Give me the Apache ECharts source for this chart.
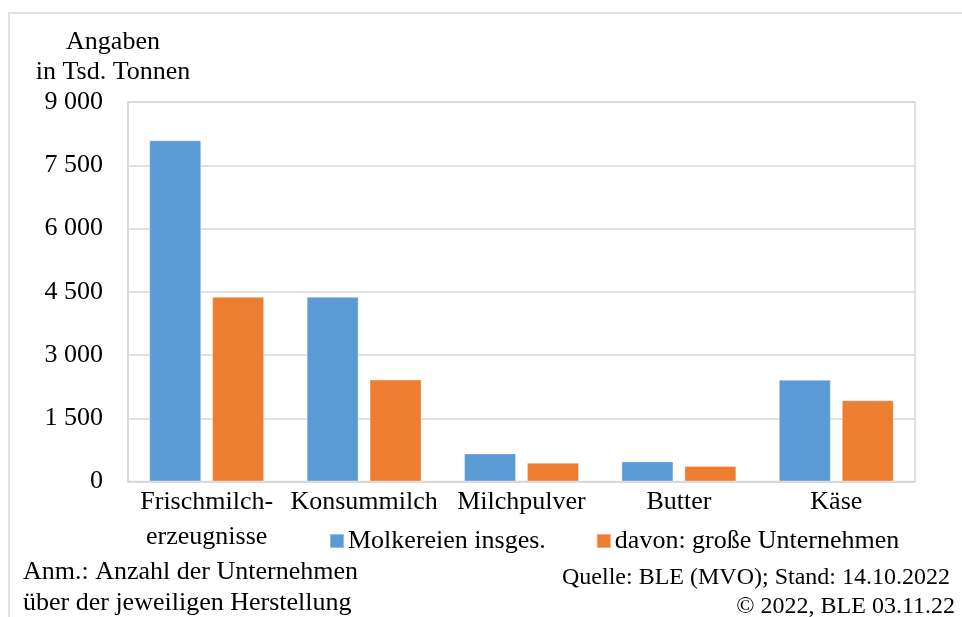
<!DOCTYPE html>
<html>
<head>
<meta charset="utf-8">
<script src="https://cdn.jsdelivr.net/npm/echarts@6/dist/echarts.min.js"></script>
<style>
  html, body { margin: 0; padding: 0; background: #fff; }
  #chart { width: 962px; height: 617px; }
</style>
</head>
<body>
<div id="chart"></div>
<script>
// Herstellung nach Produktgruppen, in Tsd. Tonnen
const categories = ['Frischmilch-\nerzeugnisse', 'Konsummilch', 'Milchpulver', 'Butter', 'Käse']
const molkereien = [8090, 4380, 665, 477, 2415]
const grosseUnternehmen = [4380, 2420, 444, 366, 1925]
const seriesNames = ['Molkereien insges.', 'davon: große Unternehmen']
const yTicks = [0, 1500, 3000, 4500, 6000, 7500, 9000]

const font = '"Liberation Serif", "Times New Roman", serif'
const gridColor = '#d9d9d9'

const chart = echarts.init(document.getElementById('chart'))

// Tausender mit Leerzeichen trennen
function fmt(v) {
  return String(v).replace(/\B(?=(\d{3})+(?!\d))/g, ' ')
}

chart.setOption({
  animation: false,
  textStyle: { fontFamily: font, color: '#000' },
  color: ['#5b9bd5', '#ed7d31'],
  grid: {
    left: 128,
    top: 102,
    right: 47,
    bottom: 135.5,
    show: true,
    borderColor: gridColor,
    borderWidth: 1.5
  },
  legend: {
    data: seriesNames,
    left: 324,
    top: 523,
    itemWidth: 14,
    itemHeight: 14,
    itemGap: 50,
    icon: 'rect',
    textStyle: { fontFamily: font, fontSize: 26, color: '#000', padding: [0, 0, 0, -1] }
  },
  xAxis: {
    type: 'category',
    data: categories,
    axisLine: { lineStyle: { color: gridColor, width: 1.5 } },
    axisTick: { show: false },
    axisLabel: {
      fontFamily: font,
      fontSize: 26,
      color: '#000',
      lineHeight: 35,
      margin: 3,
      interval: 0
    }
  },
  yAxis: {
    type: 'value',
    min: yTicks[0],
    max: yTicks[yTicks.length - 1],
    interval: 1500,
    axisLine: { show: true, lineStyle: { color: gridColor, width: 1.5 } },
    axisTick: { show: false },
    splitLine: { lineStyle: { color: gridColor, width: 1.5 } },
    axisLabel: {
      fontFamily: font,
      fontSize: 26,
      color: '#000',
      margin: 25,
      formatter: fmt
    }
  },
  series: [
    {
      name: seriesNames[0],
      type: 'bar',
      data: molkereien,
      barWidth: 52,
      barGap: '21%',
      itemStyle: { borderColor: 'rgba(255,255,255,0.35)', borderWidth: 1 }
    },
    {
      name: seriesNames[1],
      type: 'bar',
      data: grosseUnternehmen,
      barWidth: 52,
      barGap: '21%',
      itemStyle: { borderColor: 'rgba(255,255,255,0.35)', borderWidth: 1 }
    }
  ],
  graphic: [
    {
      type: 'rect',
      silent: true,
      shape: { x: 9, y: 13, width: 970, height: 640 },
      style: { fill: 'none', stroke: gridColor, lineWidth: 1.5 },
      z: -1
    },
    {
      type: 'text',
      position: [113, 42],
      style: {
        text: 'Angaben',
        font: '26px ' + font,
        fill: '#000',
        align: 'center',
        verticalAlign: 'middle'
      }
    },
    {
      type: 'text',
      position: [113, 72],
      style: {
        text: 'in Tsd. Tonnen',
        font: '26px ' + font,
        fill: '#000',
        align: 'center',
        verticalAlign: 'middle'
      }
    },
    {
      type: 'text',
      position: [23, 572],
      style: {
        text: 'Anm.: Anzahl der Unternehmen',
        font: '26px ' + font,
        fill: '#000',
        align: 'left',
        verticalAlign: 'middle'
      }
    },
    {
      type: 'text',
      position: [23, 603],
      style: {
        text: 'über der jeweiligen Herstellung',
        font: '26px ' + font,
        fill: '#000',
        align: 'left',
        verticalAlign: 'middle'
      }
    },
    {
      type: 'text',
      position: [950, 578],
      style: {
        text: 'Quelle: BLE (MVO); Stand: 14.10.2022',
        font: '24px ' + font,
        fill: '#000',
        align: 'right',
        verticalAlign: 'middle'
      }
    },
    {
      type: 'text',
      position: [955, 607],
      style: {
        text: '© 2022, BLE 03.11.22',
        font: '24px ' + font,
        fill: '#000',
        align: 'right',
        verticalAlign: 'middle'
      }
    }
  ]
})

window.addEventListener('resize', () => chart.resize())
</script>
</body>
</html>
